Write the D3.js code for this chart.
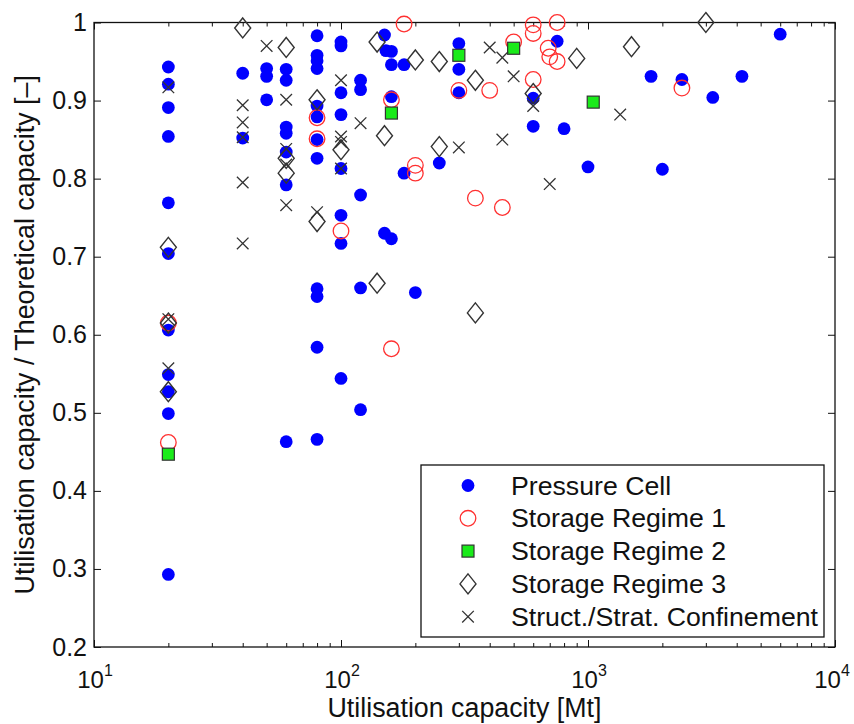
<!DOCTYPE html>
<html>
<head>
<meta charset="utf-8">
<script src="https://cdn.jsdelivr.net/npm/d3@7"></script>
<style>
  body { margin: 0; background: #fff; }
  text { font-family: "Liberation Sans", Arial, sans-serif; fill: #111; }
</style>
</head>
<body>
<div id="chart"></div>
<script>
// values: [utilisation capacity Mt, ratio]
const pressureCell = [
  [20,0.943],[20,0.921],[20,0.891],[20,0.854],[20,0.769],[20,0.704],[20,0.606],[20,0.549],[20,0.527],[20,0.499],[20,0.293],
  [40,0.935],[40,0.852],
  [50,0.941],[50,0.931],[50,0.901],
  [60,0.940],[60,0.926],[60,0.866],[60,0.858],[60,0.834],[60,0.792],[60,0.463],
  [80,0.983],[80,0.958],[80,0.951],[80,0.941],[80,0.893],[80,0.879],[80,0.850],[80,0.826],[80,0.659],[80,0.649],[80,0.584],[80,0.466],
  [100,0.975],[100,0.970],[100,0.910],[100,0.882],[100,0.813],[100,0.753],[100,0.717],[100,0.544],
  [120,0.926],[120,0.914],[120,0.779],[120,0.660],[120,0.504],
  [150,0.984],[152,0.964],[150,0.730],
  [160,0.963],[160,0.946],[160,0.905],[160,0.723],
  [180,0.946],[180,0.807],[200,0.654],[250,0.820],
  [300,0.973],[300,0.940],[300,0.910],
  [600,0.903],[600,0.867],[750,0.976],[800,0.864],[1000,0.815],
  [1800,0.931],[2000,0.812],[2400,0.927],[3200,0.904],[4200,0.931],[6000,0.985]
];
const regime1 = [
  [20,0.615],[20,0.462],[80,0.878],[80,0.851],[100,0.733],[160,0.901],[160,0.582],
  [180,0.998],[200,0.817],[200,0.807],[300,0.913],[350,0.775],[400,0.913],[450,0.763],
  [500,0.975],[600,0.997],[600,0.986],[600,0.927],[690,0.967],[700,0.956],[750,1.0],[750,0.950],[2400,0.916]
];
const regime2 = [
  [20,0.447],[160,0.884],[300,0.958],[500,0.967],[1050,0.898]
];
const regime3 = [
  [20,0.712],[20,0.615],[20,0.527],[40,0.993],[60,0.968],[60,0.826],[60,0.807],
  [80,0.901],[80,0.745],[100,0.837],[140,0.975],[140,0.666],[150,0.855],[200,0.952],
  [250,0.950],[250,0.841],[350,0.926],[350,0.628],[600,0.909],[900,0.954],[1500,0.969],[3000,1.0]
];
const confinement = [
  [20,0.917],[20,0.620],[20,0.557],
  [40,0.894],[40,0.872],[40,0.853],[40,0.795],[40,0.717],
  [50,0.970],[60,0.901],[60,0.838],[60,0.818],[60,0.766],[80,0.757],
  [100,0.926],[100,0.854],[100,0.847],[100,0.813],[120,0.871],
  [300,0.840],[400,0.968],[450,0.955],[450,0.850],[500,0.931],[600,0.893],[700,0.793],[1350,0.882]
];
const seriesNames = ["Pressure Cell","Storage Regime 1","Storage Regime 2","Storage Regime 3","Struct./Strat. Confinement"];
const xTicks = [10, 100, 1000, 10000];
const xTickExp = ["1","2","3","4"];
const yTicks = [0.2, 0.3, 0.4, 0.5, 0.6, 0.7, 0.8, 0.9, 1];

const W = 854, H = 724;
const plot = {left: 94, right: 835, top: 22.5, bottom: 647};

const svg = d3.select("#chart").append("svg")
    .attr("width", W).attr("height", H);

const x = d3.scaleLog().domain([10, 10000]).range([plot.left, plot.right]);
const y = d3.scaleLinear().domain([0.2, 1]).range([plot.bottom, plot.top]);

// minor ticks for the log axis
const minor = [];
for (let k = 0; k < 3; k++) {
  for (let m = 2; m <= 9; m++) minor.push(m * xTicks[k]);
}

function styleAxis(g) {
  g.select(".domain").remove();
  g.selectAll("line").attr("stroke", "#111").attr("stroke-width", 1);
}

// x ticks, bottom and top, pointing inward
svg.append("g").attr("transform", `translate(0,${plot.bottom})`)
    .call(d3.axisBottom(x).tickValues(minor).tickSize(-4).tickFormat(""))
    .call(styleAxis);
svg.append("g").attr("transform", `translate(0,${plot.bottom})`)
    .call(d3.axisBottom(x).tickValues(xTicks).tickSize(-7).tickFormat(""))
    .call(styleAxis);
svg.append("g").attr("transform", `translate(0,${plot.top})`)
    .call(d3.axisTop(x).tickValues(minor).tickSize(-4).tickFormat(""))
    .call(styleAxis);
svg.append("g").attr("transform", `translate(0,${plot.top})`)
    .call(d3.axisTop(x).tickValues(xTicks).tickSize(-7).tickFormat(""))
    .call(styleAxis);

// y ticks, left and right
svg.append("g").attr("transform", `translate(${plot.left},0)`)
    .call(d3.axisLeft(y).tickValues(yTicks).tickSize(-7).tickPadding(7).tickFormat(d => String(d)))
    .call(styleAxis)
    .selectAll("text").attr("font-size", "25px").attr("font-family", null);
svg.append("g").attr("transform", `translate(${plot.right},0)`)
    .call(d3.axisRight(y).tickValues(yTicks).tickSize(-7).tickFormat(""))
    .call(styleAxis);

// x tick labels 10^n (the last one nudged in so it stays on the page)
const xl = svg.append("g").selectAll("text").data(xTicks).enter().append("text")
    .attr("x", (d, i) => i === xTicks.length - 1 ? x(d) - 3 : x(d) + 1)
    .attr("y", 688)
    .attr("text-anchor", "middle")
    .attr("font-size", "24px");
xl.append("tspan").text("10");
xl.append("tspan").attr("dy", -12).attr("font-size", "16px").text((d, i) => xTickExp[i]);

// frame
svg.append("rect")
    .attr("x", plot.left).attr("y", plot.top)
    .attr("width", plot.right - plot.left).attr("height", plot.bottom - plot.top)
    .attr("fill", "none").attr("stroke", "#111").attr("stroke-width", 1.3);

// marker drawers
function drawCircle(g, cx, cy) {
  g.append("circle").attr("cx", cx).attr("cy", cy).attr("r", 6.4).attr("fill", "#0000ff");
}
function drawRing(g, cx, cy) {
  g.append("circle").attr("cx", cx).attr("cy", cy).attr("r", 7.8)
      .attr("fill", "none").attr("stroke", "#ff3030").attr("stroke-width", 1.3);
}
function drawSquare(g, cx, cy) {
  g.append("rect").attr("x", cx - 6).attr("y", cy - 6).attr("width", 12).attr("height", 12)
      .attr("fill", "#1aeb1a").attr("stroke", "#333").attr("stroke-width", 1.2);
}
function drawDiamond(g, cx, cy) {
  g.append("path")
      .attr("d", `M${cx},${cy - 10}L${cx + 8},${cy}L${cx},${cy + 10}L${cx - 8},${cy}Z`)
      .attr("fill", "none").attr("stroke", "#333").attr("stroke-width", 1.4);
}
function drawCross(g, cx, cy) {
  const s = 5.8;
  g.append("path")
      .attr("d", `M${cx - s},${cy - s}L${cx + s},${cy + s}M${cx - s},${cy + s}L${cx + s},${cy - s}`)
      .attr("stroke", "#333").attr("stroke-width", 1.3);
}

const series = [
  {data: pressureCell, draw: drawCircle},
  {data: regime1, draw: drawRing},
  {data: regime2, draw: drawSquare},
  {data: regime3, draw: drawDiamond},
  {data: confinement, draw: drawCross}
];

const marks = svg.append("g");
series.forEach(function(s) {
  const g = marks.append("g");
  s.data.forEach(function(d) { s.draw(g, x(d[0]), y(d[1])); });
});

// legend
const lg = svg.append("g");
lg.append("rect").attr("x", 421).attr("y", 465).attr("width", 403).attr("height", 172)
    .attr("fill", "#fff").attr("stroke", "#111").attr("stroke-width", 1.3);
seriesNames.forEach(function(name, i) {
  const cy = 485.5 + i * 32.8;
  series[i].draw(lg, 468, cy);
  lg.append("text").attr("x", 511).attr("y", cy + 9).attr("font-size", "26.7px").text(name);
});

// axis titles
svg.append("text")
    .attr("x", (plot.left + plot.right) / 2).attr("y", 717)
    .attr("text-anchor", "middle").attr("font-size", "26.8px")
    .text("Utilisation capacity [Mt]");
svg.append("text")
    .attr("transform", `translate(34,${(plot.top + plot.bottom) / 2}) rotate(-90)`)
    .attr("text-anchor", "middle").attr("font-size", "26.8px")
    .text("Utilisation capacity / Theoretical capacity [–]");
</script>
</body>
</html>
